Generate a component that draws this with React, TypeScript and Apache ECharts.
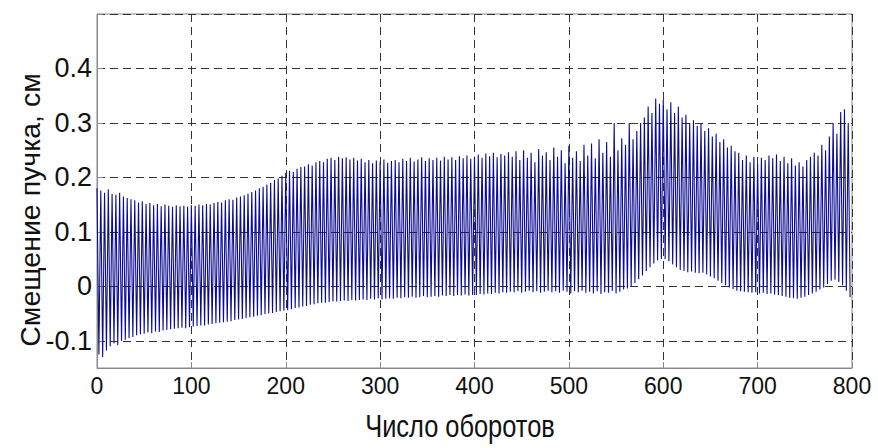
import React, { useEffect, useRef } from "react";
import * as echarts from "echarts";

// Turn step between successive extremes (peaks at 0,4,8...; troughs at 2,6,10...)
const STEP = 4;

// Upper extremes of the oscillation (one per cycle), in cm
const peaks: number[] = [
  0.18, 0.176, 0.172, 0.178, 0.17, 0.168, 0.172, 0.165, 0.162, 0.16,
  0.158, 0.154, 0.156, 0.151, 0.153, 0.149, 0.151, 0.147, 0.15, 0.148,
  0.146, 0.149, 0.147, 0.148, 0.146, 0.149, 0.148, 0.15, 0.149, 0.151,
  0.15, 0.153, 0.155, 0.154, 0.158, 0.16, 0.159, 0.163, 0.165, 0.167,
  0.17, 0.173, 0.176, 0.18, 0.183, 0.187, 0.19, 0.195, 0.198, 0.203,
  0.208, 0.212, 0.21, 0.216, 0.219, 0.22, 0.224, 0.222, 0.228, 0.23,
  0.228, 0.234, 0.236, 0.232, 0.238, 0.235, 0.237, 0.233, 0.236, 0.231,
  0.234, 0.228, 0.232, 0.226, 0.231, 0.229, 0.233, 0.227, 0.23, 0.232,
  0.228, 0.234, 0.23, 0.236, 0.229, 0.233, 0.237, 0.23, 0.235, 0.232,
  0.236, 0.231, 0.238, 0.233, 0.237, 0.232, 0.239, 0.235, 0.24, 0.234,
  0.238, 0.242, 0.236, 0.244, 0.239, 0.245, 0.237, 0.243, 0.24, 0.246,
  0.238, 0.248, 0.232, 0.25, 0.236, 0.245, 0.228, 0.252, 0.24, 0.246,
  0.232, 0.255, 0.238, 0.25, 0.226, 0.258, 0.236, 0.248, 0.23, 0.26,
  0.24, 0.262, 0.235, 0.27, 0.245, 0.265, 0.238, 0.3, 0.25, 0.272,
  0.26, 0.3, 0.27, 0.285, 0.3, 0.31, 0.33, 0.318, 0.345, 0.335,
  0.342, 0.325, 0.338, 0.318, 0.33, 0.31, 0.315, 0.3, 0.305, 0.295,
  0.3, 0.285, 0.29, 0.275, 0.28, 0.265, 0.27, 0.255, 0.258, 0.248,
  0.245, 0.232, 0.24, 0.228, 0.238, 0.225, 0.236, 0.232, 0.24, 0.235,
  0.242, 0.23, 0.238, 0.226, 0.235, 0.222, 0.228, 0.22, 0.232, 0.238,
  0.245, 0.24, 0.26, 0.25, 0.275, 0.3, 0.28, 0.32, 0.325, 0.3,
];

// Lower extremes of the oscillation (one per cycle), in cm
const troughs: number[] = [
  -0.125, -0.13, -0.118, -0.11, -0.105, -0.108, -0.1, -0.098, -0.095, -0.093,
  -0.09, -0.088, -0.087, -0.085, -0.086, -0.083, -0.084, -0.081, -0.08, -0.079,
  -0.078, -0.077, -0.076, -0.077, -0.075, -0.074, -0.073, -0.072, -0.072, -0.07,
  -0.069, -0.068, -0.067, -0.066, -0.065, -0.064, -0.062, -0.061, -0.06, -0.058,
  -0.057, -0.056, -0.054, -0.053, -0.051, -0.05, -0.049, -0.047, -0.046, -0.045,
  -0.044, -0.042, -0.04, -0.039, -0.037, -0.036, -0.034, -0.033, -0.031, -0.03,
  -0.03, -0.029, -0.028, -0.028, -0.027, -0.026, -0.027, -0.025, -0.026, -0.025,
  -0.024, -0.025, -0.023, -0.024, -0.022, -0.024, -0.023, -0.022, -0.023, -0.021,
  -0.022, -0.02, -0.021, -0.019, -0.021, -0.02, -0.018, -0.02, -0.019, -0.018,
  -0.019, -0.017, -0.018, -0.016, -0.018, -0.016, -0.017, -0.015, -0.017, -0.016,
  -0.016, -0.014, -0.015, -0.013, -0.014, -0.012, -0.013, -0.011, -0.012, -0.01,
  -0.011, -0.009, -0.012, -0.01, -0.008, -0.011, -0.009, -0.012, -0.01, -0.008,
  -0.011, -0.009, -0.012, -0.008, -0.01, -0.013, -0.009, -0.011, -0.008, -0.012,
  -0.01, -0.013, -0.009, -0.014, -0.011, -0.012, -0.008, -0.013, -0.01, -0.006,
  -0.004, 0.0, 0.006, 0.013, 0.02, 0.028, 0.035, 0.042, 0.048, 0.05,
  0.05, 0.046, 0.04, 0.035, 0.03, 0.028, 0.026, 0.027, 0.025, 0.024,
  0.025, 0.022, 0.018, 0.015, 0.01, 0.006, 0.002, -0.002, -0.005, -0.008,
  -0.009, -0.01, -0.011, -0.012, -0.011, -0.013, -0.012, -0.014, -0.013, -0.015,
  -0.016, -0.018, -0.019, -0.021, -0.022, -0.023, -0.021, -0.019, -0.016, -0.013,
  -0.01, -0.006, -0.002, 0.004, 0.01, 0.012, 0.008, 0.002, -0.008, -0.02,
];

const xTicks = [0, 100, 200, 300, 400, 500, 600, 700, 800];
const yMin = -0.15;
const yMax = 0.5;
const yLabelMax = 0.4;
const xTitle = "Число оборотов";
const yTitle = "Смещение пучка, см";

const isTenth = (v: number) => Math.abs(v * 10 - Math.round(v * 10)) < 1e-6;

export default function App() {
  const ref = useRef<HTMLDivElement>(null);

  useEffect(() => {
    if (!ref.current) return;
    const chart = echarts.init(ref.current, null, { renderer: "svg" });

    const data: [number, number][] = [];
    for (let i = 0; i < peaks.length; i++) {
      data.push([i * STEP, peaks[i]]);
      if (i < troughs.length) data.push([i * STEP + STEP / 2, troughs[i]]);
    }

    const grid = { color: "#333", type: [8, 5] as number[], width: 1 };

    chart.setOption({
      animation: false,
      backgroundColor: "#ffffff",
      grid: {
        left: 97,
        right: 26,
        top: 14,
        bottom: 80,
        show: true,
        borderColor: "#8a8a8a",
        borderWidth: 1,
        backgroundColor: "transparent",
      },
      graphic: [
        {
          type: "text",
          x: 460,
          y: 426,
          scaleX: 0.82,
          style: {
            text: xTitle,
            fontFamily: "Liberation Sans, Arial, sans-serif",
            fontSize: 31,
            fill: "#111",
            align: "center",
            verticalAlign: "middle",
          },
        },
        {
          type: "text",
          x: 30,
          y: 210,
          rotation: Math.PI / 2,
          style: {
            text: yTitle,
            fontFamily: "Liberation Sans, Arial, sans-serif",
            fontSize: 28.5,
            fill: "#111",
            align: "center",
            verticalAlign: "middle",
          },
        },
      ],
      xAxis: {
        type: "value",
        min: xTicks[0],
        max: xTicks[xTicks.length - 1],
        interval: 100,
        axisLine: { show: true, onZero: false, lineStyle: { color: "#8a8a8a" } },
        axisTick: { show: true, inside: true, length: 6, lineStyle: { color: "#8a8a8a" } },
        axisLabel: {
          fontFamily: "Liberation Sans, Arial, sans-serif",
          fontSize: 23,
          color: "#111",
          margin: 6,
        },
        splitLine: { show: true, lineStyle: grid },
      },
      yAxis: {
        type: "value",
        min: yMin,
        max: yMax,
        splitNumber: 6,
        minInterval: 0.1,
        maxInterval: 0.1,
        axisLine: { show: true, onZero: false, lineStyle: { color: "#8a8a8a" } },
        axisTick: { show: true, inside: true, length: 6, lineStyle: { color: "#8a8a8a" } },
        axisLabel: {
          fontFamily: "Liberation Sans, Arial, sans-serif",
          fontSize: 27,
          color: "#111",
          margin: 5,
          formatter: (v: number) =>
            isTenth(v) && v <= yLabelMax + 1e-6 ? String(Math.round(v * 10) / 10) : "",
        },
        splitLine: { show: true, lineStyle: grid },
      },
      series: [
        {
          type: "line",
          data,
          showSymbol: false,
          symbol: "none",
          lineStyle: { color: "#0c0c90", width: 1.1 },
          z: 3,
        },
      ],
    });

    return () => chart.dispose();
  }, []);

  return (
    <div
      ref={ref}
      style={{ position: "fixed", left: 0, top: 0, width: 878, height: 448, background: "#fff" }}
    />
  );
}
